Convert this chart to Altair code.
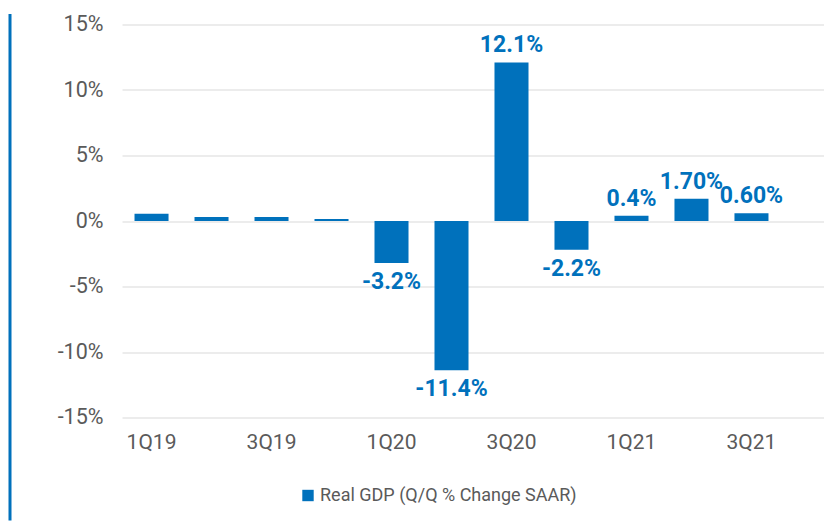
import altair as alt
import pandas as pd

quarters = ["1Q19", "2Q19", "3Q19", "4Q19", "1Q20", "2Q20", "3Q20", "4Q20", "1Q21", "2Q21", "3Q21"]
gdp = [0.55, 0.3, 0.3, 0.15, -3.2, -11.4, 12.1, -2.2, 0.4, 1.7, 0.6]
bar_labels = ["", "", "", "", "-3.2%", "-11.4%", "12.1%", "-2.2%", "0.4%", "1.70%", "0.60%"]
shown_ticks = ["1Q19", "3Q19", "1Q20", "3Q20", "1Q21", "3Q21"]
series_name = "Real GDP (Q/Q % Change SAAR)"

BLUE = "#0071BC"
GRAY = "#5a5a5a"
FONT = "Roboto"

df = pd.DataFrame({"q": quarters, "v": gdp, "lab": bar_labels, "series": series_name})

W, H = 702, 393

xs = alt.X("q:N", sort=quarters, title=None,
           scale=alt.Scale(paddingInner=0.433, paddingOuter=0.567, align=0.184),
           axis=alt.Axis(values=shown_ticks, labelAngle=0, ticks=False, domain=False, grid=False,
                         labelPadding=14, labelFontSize=21, labelColor=GRAY, labelFont=FONT))
ys = alt.Y("v:Q", title=None,
           scale=alt.Scale(domain=[-15, 15], nice=False),
           axis=alt.Axis(values=[-15, -10, -5, 0, 5, 10, 15], labelExpr="datum.value + '%'",
                         ticks=False, domain=False, labelPadding=19, labelFontSize=21.5,
                         labelColor=GRAY, labelFont=FONT, grid=True, gridColor="#d9d9d9",
                         gridWidth=1.2))

base = alt.Chart(df)

bars = base.mark_bar().encode(
    x=xs, y=ys,
    color=alt.Color("series:N", scale=alt.Scale(range=[BLUE]), title=None,
                    legend=alt.Legend(orient="none", legendX=177, legendY=462,
                                      symbolType="square", symbolSize=130,
                                      symbolStrokeWidth=0, labelLimit=0,
                                      labelFontSize=18, labelColor=GRAY, labelFont=FONT,
                                      symbolOffset=0, labelOffset=3)),
)

pos_text = base.transform_filter("datum.lab != '' && datum.v >= 0").mark_text(
    baseline="bottom", dy=-5, fontSize=23, fontWeight="bold", color=BLUE, font=FONT
).encode(x=alt.X("q:N", sort=quarters), y="v:Q", text="lab:N")

neg_text = base.transform_filter("datum.lab != '' && datum.v < 0").mark_text(
    baseline="top", dy=8, fontSize=23, fontWeight="bold", color=BLUE, font=FONT
).encode(x=alt.X("q:N", sort=quarters), y="v:Q", text="lab:N")

side_line = alt.Chart(pd.DataFrame({"a": [0]})).mark_rule(color=BLUE, strokeWidth=3).encode(
    x=alt.value(-112), y=alt.value(-10.5), y2=alt.value(H + 103)
)

chart = alt.layer(bars, pos_text, neg_text, side_line).properties(
    width=W, height=H,
    background="white",
    autosize=alt.AutoSizeParams(type="none"),
    padding={"left": 114, "top": 16.5, "right": 0, "bottom": 103},
).configure_view(stroke=None)

chart.save("out.html", embed_options={"renderer": "svg", "actions": False})
